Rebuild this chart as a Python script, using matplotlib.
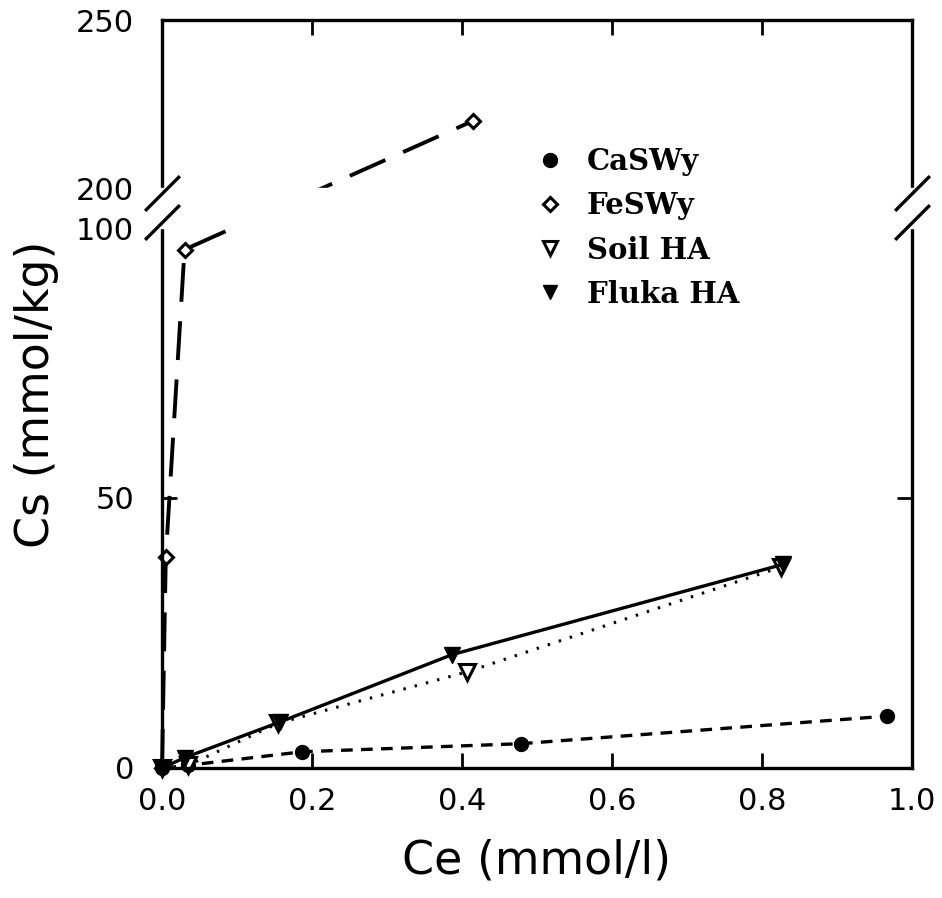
import numpy as np
import matplotlib
matplotlib.use("Agg")
import matplotlib.pyplot as plt
from matplotlib.lines import Line2D
from matplotlib.path import Path

# --- данные ---
ca_x = [0.0, 0.035, 0.187, 0.479, 0.967]
ca_y = [0.0, 0.5, 3.0, 4.5, 9.6]

fe_x = [0.0, 0.005, 0.03, 0.415]
fe_y = [0.0, 39.0, 96.0, 220.0]

soil_x = [0.0, 0.035, 0.155, 0.407, 0.825]
soil_y = [0.0, 0.5, 8.3, 17.8, 37.2]

fluka_x = [0.0, 0.03, 0.157, 0.387, 0.828]
fluka_y = [0.0, 1.9, 8.5, 21.0, 37.7]

labels = ["CaSWy", "FeSWy", "Soil HA", "Fluka HA"]
x_ticks = [0.0, 0.2, 0.4, 0.6, 0.8, 1.0]
y_ticks = [0, 50, 100, 200, 250]


# разрыв оси: 0-100 и 200-250, промежуток 100-200 сжат
def fwd(y):
    y = np.asarray(y, dtype=float)
    return np.where(y <= 100, y * 5.4,
                    np.where(y <= 200, 540 + (y - 100) * 0.4, 580 + (y - 200) * 3.36))


def inv(v):
    v = np.asarray(v, dtype=float)
    return np.where(v <= 540, v / 5.4,
                    np.where(v <= 580, 100 + (v - 540) / 0.4, 200 + (v - 580) / 3.36))


plt.rcParams['font.family'] = 'DejaVu Sans'
fig = plt.figure(figsize=(9.42, 8.98), dpi=100)
ax = fig.add_axes([0.172, 0.1448, 0.796, 0.8329])
ax.set_yscale('function', functions=(fwd, inv))
ax.set_xlim(0, 1.0)
ax.set_ylim(0, 250)

lw = 2.4
ax.plot(ca_x, ca_y, color='black', lw=lw, ls=(0, (3.5, 2.5)), marker='o', ms=10,
        clip_on=False, zorder=2)
ax.plot(fe_x, fe_y, color='black', lw=2.8, ls=(0, (10, 5)), marker='D', ms=7,
        mfc='white', mew=2.2, clip_on=False, zorder=2)
ax.plot(soil_x, soil_y, color='black', lw=2.2, ls=(0, (0.8, 3.0)), marker='v', ms=11,
        mfc='white', mew=2.2, clip_on=False, zorder=2)
ax.plot(fluka_x, fluka_y, color='black', lw=lw, ls='-', marker='v', ms=12,
        clip_on=False, zorder=2)

# белая полоса в зоне разрыва закрывает линии и рамку
ax.axhspan(100, 200, xmin=-0.02, xmax=1.02, color='white', zorder=3, clip_on=False)

# косые штрихи разрыва
slash = Path([(-1, -1), (1, 1)], [Path.MOVETO, Path.LINETO])
ax.plot([0, 0, 1, 1], [115, 187, 115, 187], transform=ax.get_yaxis_transform(),
        ls='none', marker=slash, ms=25, mec='black', mew=2.4, clip_on=False, zorder=5)

for s in ax.spines.values():
    s.set_linewidth(2.4)

ax.set_xticks(x_ticks)
ax.set_xticklabels([f"{v:.1f}" for v in x_ticks])
ax.set_yticks(y_ticks)
ax.set_yticklabels([str(v) for v in y_ticks])
ax.tick_params(direction='in', length=11, width=2.0, labelsize=22,
               top=True, right=True)
ax.tick_params(axis='x', pad=14)
ax.tick_params(axis='y', pad=20)
for t in ax.yaxis.get_major_ticks():
    if t.get_loc() in (100, 200):
        t.tick1line.set_visible(False)
        t.tick2line.set_visible(False)

ax.set_xlabel("Ce (mmol/l)", fontsize=33, labelpad=16)
ax.set_ylabel("Cs (mmol/kg)", fontsize=33, labelpad=12)

handles = [
    Line2D([], [], ls='none', color='black', marker='o', ms=10),
    Line2D([], [], ls='none', color='black', marker='D', ms=7, mfc='white', mew=2.2),
    Line2D([], [], ls='none', color='black', marker='v', ms=10, mfc='white', mew=2.2),
    Line2D([], [], ls='none', color='black', marker='v', ms=10),
]
ax.legend(handles, labels, loc='upper left', bbox_to_anchor=(0.502, 0.83),
          frameon=False, handlelength=0.8, handletextpad=0.85, labelspacing=0.52,
          borderpad=0, borderaxespad=0,
          prop={'family': 'DejaVu Serif', 'weight': 'bold', 'size': 21})

fig.savefig("out.png", dpi=100)
